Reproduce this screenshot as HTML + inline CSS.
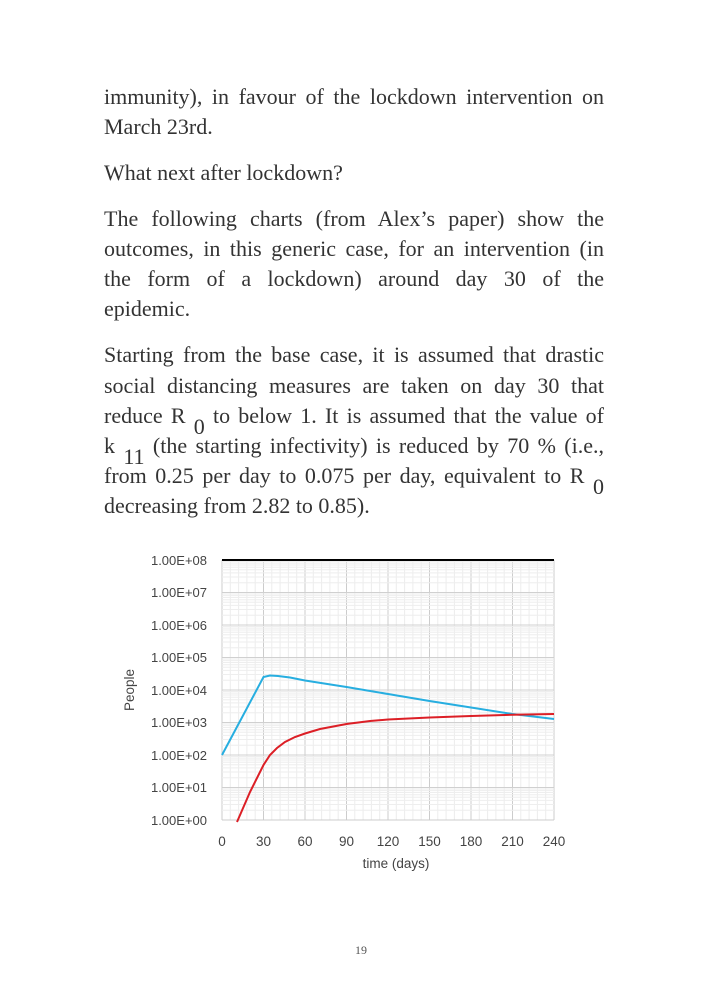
<!DOCTYPE html>
<html><head><meta charset="utf-8"><style>
body{margin:0;width:709px;height:992px;background:#fff;position:relative;overflow:hidden}
.l{position:absolute;left:104px;width:500px;font-family:"Liberation Serif",serif;font-size:22px;color:#333;white-space:nowrap;line-height:30px}
.j{text-align:justify;text-align-last:justify;white-space:normal}
.s{position:relative;top:11px}
</style></head><body>
<div class="l j" style="top:82px">immunity), in favour of the lockdown intervention on</div>
<div class="l" style="top:112px">March 23rd.</div>
<div class="l" style="top:158px">What next after lockdown?</div>
<div class="l j" style="top:204px">The following charts (from Alex’s paper) show the</div>
<div class="l j" style="top:234px">outcomes, in this generic case, for an intervention (in</div>
<div class="l j" style="top:264px">the form of a lockdown) around day 30 of the</div>
<div class="l" style="top:294px">epidemic.</div>
<div class="l j" style="top:340px">Starting from the base case, it is assumed that drastic</div>
<div class="l j" style="top:371px">social distancing measures are taken on day 30 that</div>
<div class="l j" style="top:401px">reduce R <span class="s">0</span> to below 1. It is assumed that the value of</div>
<div class="l j" style="top:431px">k <span class="s">11</span> (the starting infectivity) is reduced by 70 % (i.e.,</div>
<div class="l j" style="top:461px">from 0.25 per day to 0.075 per day, equivalent to R <span class="s">0</span></div>
<div class="l" style="top:491px">decreasing from 2.82 to 0.85).</div>
<svg style="position:absolute;left:0;top:0" width="709" height="992" font-family="Liberation Sans, sans-serif">
<g id="g"></g>
<g font-size="13" fill="#444" text-anchor="end">
<text x="207" y="565">1.00E+08</text><text x="207" y="597">1.00E+07</text><text x="207" y="630">1.00E+06</text><text x="207" y="662">1.00E+05</text><text x="207" y="695">1.00E+04</text><text x="207" y="727">1.00E+03</text><text x="207" y="760">1.00E+02</text><text x="207" y="792">1.00E+01</text><text x="207" y="825">1.00E+00</text>
</g>
<g font-size="13.5" fill="#444" text-anchor="middle">
<text x="222" y="846">0</text><text x="263.5" y="846">30</text><text x="305" y="846">60</text><text x="346.5" y="846">90</text><text x="388" y="846">120</text><text x="429.5" y="846">150</text><text x="471" y="846">180</text><text x="512.5" y="846">210</text><text x="554" y="846">240</text>
<text x="396" y="868">time (days)</text>
<text transform="translate(134,690) rotate(-90)">People</text>
</g>
<line x1="222" y1="560" x2="554" y2="560" stroke="#000" stroke-width="2"/>
<polyline fill="none" stroke="#27aee0" stroke-width="2" points="222,755 263.5,677 270,675.5 278,676 290,677.5 305,680.5 346.5,687 388,694 429.5,701 471,707.5 512.5,714 554,719"/>
<polyline fill="none" stroke="#dc1f26" stroke-width="2" points="237,822 250,792 263.5,765 270,755 277,748 285,742 295,737 305,733.5 320,729 346.5,724 370,721 388,719.5 429.5,717.5 471,716 512.5,714.8 554,714"/>
<text x="361" y="954" font-family="Liberation Serif,serif" font-size="12" fill="#555" text-anchor="middle">19</text>
</svg>
<script>
var g=document.getElementById('g'),s='';
for(var d=0;d<=240;d+=6){var x=222+d*332/240;s+='<line x1="'+x+'" y1="560" x2="'+x+'" y2="820" stroke="'+(d%30==0?'#ccc':'#ececec')+'" stroke-width="1"/>';}
for(var k=0;k<8;k++){for(var m=1;m<10;m++){var y=820-32.5*(k+Math.log10(m));s+='<line x1="222" y1="'+y+'" x2="554" y2="'+y+'" stroke="'+(m==1?'#d0d0d0':'#eeeeee')+'" stroke-width="1"/>';}}
s+='<line x1="222" y1="820" x2="554" y2="820" stroke="#ccc"/>';
g.innerHTML=s;
</script>
</body></html>
